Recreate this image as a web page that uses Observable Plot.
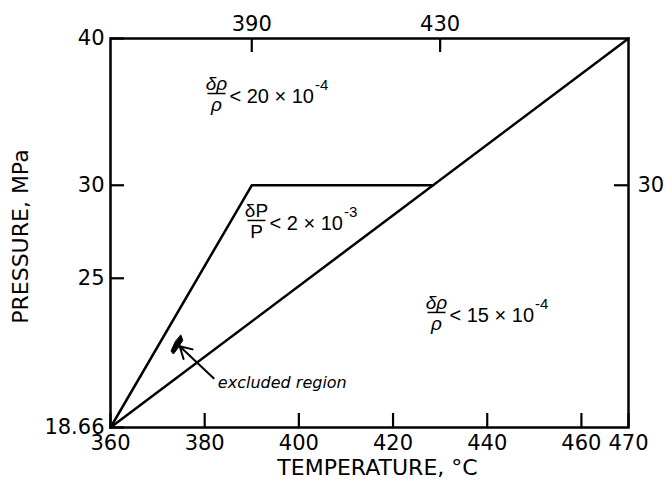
<!DOCTYPE html>
<html>
<head>
<meta charset="utf-8">
<script src="https://cdn.jsdelivr.net/npm/d3@7"></script>
<script src="https://cdn.jsdelivr.net/npm/@observablehq/plot@0.6"></script>
<style>
  body { margin: 0; background: #fff; }
</style>
</head>
<body>
<div id="chart"></div>
<script>
// ---- data ----
const xTicksBottom = [360, 380, 400, 420, 440, 460, 470];
const xTicksTop = [390, 430];
const yTicksLeft = [18.66, 25, 30, 40];
const yTicksRight = [30];

const diagT = [360, 470];
const diagP = [18.66, 40];
const bendT = [360, 390, 428.5];
const bendP = [18.66, 30, 30];

const blobT = [374.95, 375.35, 374.25, 373.35, 372.85, 373.75];
const blobP = [22.36, 22.14, 21.78, 21.55, 21.68, 22.08];

const arrowT = [381.9, 374.7];
const arrowP = [20.55, 21.88];
const noteText = ["excluded region"];
const noteT = [382.8];
const noteP = [20.38];

const fracNum = ["δρ", "δP", "δρ"];
const fracDen = ["ρ", "P", "ρ"];
const fracItalic = [true, false, true];
const boundText = ["< 20 × 10", "< 2 × 10", "< 15 × 10"];
const boundExp = ["-4", "-3", "-4"];
const annoT = [382.5, 391.0, 429.23];
const annoP = [35.91, 28.0, 23.38];

const xTitle = ["TEMPERATURE, °C"];
const yTitle = ["PRESSURE, MPa"];
const yTitleT = [340.9];
const yTitleP = [27.13];

// ---- layout ----
const W = 665, H = 490;
const M = {top: 38, right: 37, bottom: 63, left: 110};
const FW = W - M.left - M.right, FH = H - M.top - M.bottom;
const TL = 14;

// ---- helpers ----
const TICKFONT = "'DejaVu Sans', Verdana, sans-serif";
const FONT = "'Liberation Sans', Arial, sans-serif";
const ctx = document.createElement("canvas").getContext("2d");
function textWidth(s, size) { ctx.font = `${size}px ${FONT}`; return ctx.measureText(s).width; }

const diag = diagT.map((t, i) => ({t, p: diagP[i]}));
const bend = bendT.map((t, i) => ({t, p: bendP[i]}));
const blob = blobT.map((t, i) => ({t, p: blobP[i]}));
const arrow = [{t1: arrowT[0], p1: arrowP[0], t2: arrowT[1], p2: arrowP[1]}];
const note = noteText.map((s, i) => ({s, t: noteT[i], p: noteP[i]}));
const yTitleData = yTitle.map((s, i) => ({s, t: yTitleT[i], p: yTitleP[i]}));

const barSymbol = { draw(c) { c.moveTo(-9, 0); c.lineTo(9, 0); } };
const tickStyle = {stroke: "black", strokeWidth: 2.2};

const annoMarks = [];
annoT.forEach((t, i) => {
  const d = [{t, p: annoP[i]}];
  const mainSize = 20, fracSize = 19, expSize = 15;
  const mainDx = 13;
  const fs = fracItalic[i] ? "italic" : "normal";
  const common = {x: "t", y: "p", fontFamily: FONT};
  annoMarks.push(
    Plot.text(d, {...common, text: () => fracNum[i], fontSize: fracSize, dy: -10, fontStyle: fs}),
    Plot.text(d, {...common, text: () => fracDen[i], fontSize: fracSize, dy: 11, fontStyle: fs}),
    Plot.dot(d, {x: "t", y: "p", symbol: barSymbol, stroke: "black", strokeWidth: 1.5, fill: "none", r: 5}),
    Plot.text(d, {...common, text: () => boundText[i], fontSize: mainSize, textAnchor: "start", dx: mainDx, dy: 3}),
    Plot.text(d, {...common, text: () => boundExp[i], fontSize: expSize, textAnchor: "start",
      dx: mainDx + textWidth(boundText[i], mainSize) + 1, dy: -8})
  );
});

const chart = Plot.plot({
  width: W,
  height: H,
  marginLeft: M.left,
  marginRight: M.right,
  marginTop: M.top,
  marginBottom: M.bottom,
  style: {fontFamily: TICKFONT, fontSize: "21px", color: "black", background: "white"},
  x: {domain: [360, 470]},
  y: {type: "log", domain: [18.66, 40]},
  marks: [
    Plot.axisX(xTicksBottom, {anchor: "bottom", tickSize: 0, tickPadding: 8, tickFormat: d => String(d), label: null, fontSize: 21}),
    Plot.axisX(xTicksTop, {anchor: "top", tickSize: 0, tickPadding: 8, tickFormat: d => String(d), label: null, fontSize: 21}),
    Plot.axisY(yTicksLeft, {anchor: "left", tickSize: 0, tickPadding: 6, tickFormat: d => String(d), label: null, fontSize: 21}),
    Plot.axisY(yTicksRight, {anchor: "right", tickSize: 0, tickPadding: 9, tickFormat: d => String(d), label: null, fontSize: 21}),
    Plot.frame({stroke: "black", strokeWidth: 2.5}),
    Plot.tickX(xTicksBottom, {x: d => d, insetTop: FH - TL, ...tickStyle}),
    Plot.tickX(xTicksTop, {x: d => d, insetBottom: FH - TL, ...tickStyle}),
    Plot.tickY(yTicksLeft, {y: d => d, insetRight: FW - TL, ...tickStyle}),
    Plot.tickY(yTicksRight, {y: d => d, insetLeft: FW - TL, ...tickStyle}),
    Plot.line(diag, {x: "t", y: "p", stroke: "black", strokeWidth: 2.5}),
    Plot.line(bend, {x: "t", y: "p", stroke: "black", strokeWidth: 2.5}),
    Plot.line(blob, {x: "t", y: "p", fill: "black", stroke: "black", strokeWidth: 1, curve: "linear-closed"}),
    Plot.arrow(arrow, {x1: "t1", y1: "p1", x2: "t2", y2: "p2", stroke: "black", strokeWidth: 2, headLength: 10}),
    Plot.text(note, {x: "t", y: "p", text: "s", textAnchor: "start", fontStyle: "italic", fontSize: 16}),
    ...annoMarks,
    Plot.text(xTitle, {frameAnchor: "bottom", text: d => d, dx: 8, dy: 47, fontSize: 22}),
    Plot.text(yTitleData, {x: "t", y: "p", text: "s", rotate: -90, fontSize: 22})
  ]
});
document.getElementById("chart").appendChild(chart);
</script>
</body>
</html>
